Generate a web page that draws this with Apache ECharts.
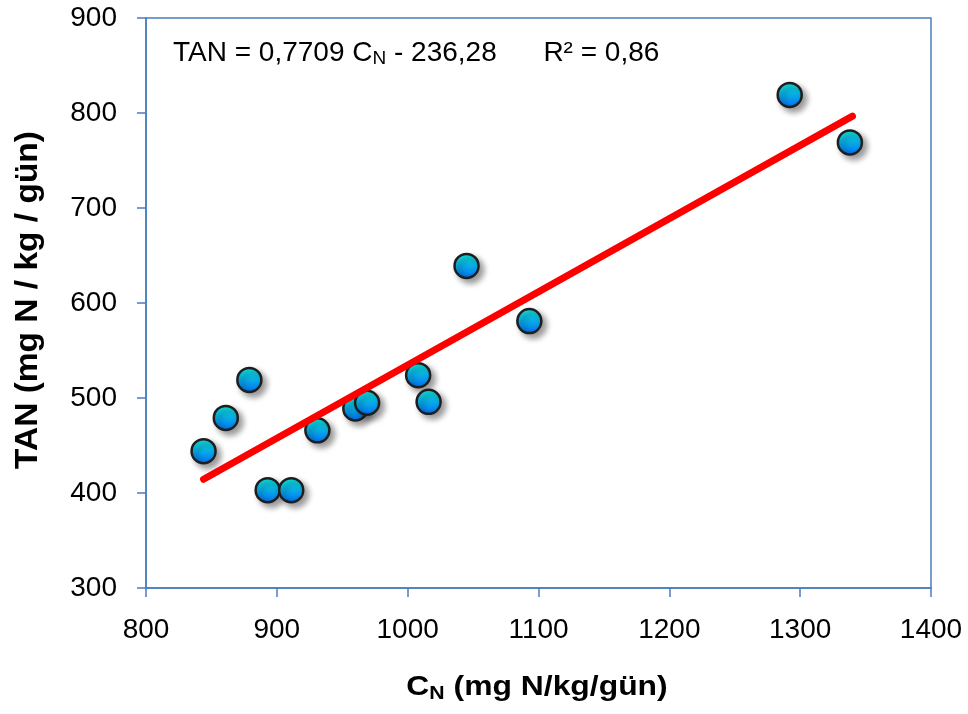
<!DOCTYPE html>
<html><head><meta charset="utf-8">
<script src="https://cdn.jsdelivr.net/npm/echarts@6/dist/echarts.min.js"></script>
<style>html,body{margin:0;padding:0;background:#fff}#c{width:968px;height:714px}</style>
</head><body><div id="c"></div>
<script>
const cnValues = [844, 861, 879, 893, 911, 931, 960, 969, 1008, 1016, 1045, 1093, 1292, 1338];
const tanValues = [444, 479, 519, 403, 403, 466, 489, 495, 524, 496, 639, 581, 819, 769];
const trendX = [844, 1340];
const trendY = [414.4, 796.7];
const xTicks = [800, 900, 1000, 1100, 1200, 1300, 1400];
const yTicks = [300, 400, 500, 600, 700, 800, 900];

const chart = echarts.init(document.getElementById('c'));
const font = "'Liberation Sans', Arial, sans-serif";
const axisColor = '#4a7ebb';
chart.setOption({
  animation: false,
  grid: {left: 146, right: 37, top: 18, bottom: 126, show: true, borderColor: axisColor, borderWidth: 1.5, backgroundColor: 'transparent'},
  xAxis: {
    type: 'value', min: xTicks[0], max: xTicks[xTicks.length-1], interval: 100,
    axisLine: {show: true, lineStyle: {color: axisColor, width: 1.5}},
    axisTick: {show: true, length: 9, lineStyle: {color: axisColor, width: 1.5}},
    splitLine: {show: false},
    axisLabel: {color: '#000', fontSize: 28, fontFamily: font, margin: 28, formatter: v => String(v)}
  },
  yAxis: {
    type: 'value', min: yTicks[0], max: yTicks[yTicks.length-1], interval: 100,
    axisLine: {show: true, lineStyle: {color: axisColor, width: 1.5}},
    axisTick: {show: true, length: 9, lineStyle: {color: axisColor, width: 1.5}},
    splitLine: {show: false},
    axisLabel: {color: '#000', fontSize: 28, fontFamily: font, margin: 29, formatter: v => String(v)}
  },
  series: [
    {
      type: 'scatter', z: 2,
      data: cnValues.map((x, i) => [x, tanValues[i]]),
      symbolSize: 24,
      itemStyle: {
        color: new echarts.graphic.LinearGradient(0, 0, 0, 1, [
          {offset: 0, color: '#10ecdc'}, {offset: 0.5, color: '#08aee8'}, {offset: 1, color: '#0068f4'}
        ]),
        borderColor: '#1e1e1e', borderWidth: 2.5, opacity: 1,
        shadowBlur: 6, shadowOffsetX: 4, shadowOffsetY: 4, shadowColor: 'rgba(0,0,0,0.4)'
      }
    },
    {
      type: 'line', z: 3, symbol: 'none',
      data: trendX.map((x, i) => [x, trendY[i]]),
      lineStyle: {color: '#ff0000', width: 7, cap: 'round'}
    }
  ],
  graphic: [
    {
      type: 'text', left: 173, top: 39,
      style: {
        text: '{a|TAN = 0,7709 C}{s|N}{a| - 236,28      R² = 0,86}',
        rich: {
          a: {fontSize: 28, fontFamily: font, fill: '#000'},
          s: {fontSize: 19, fontFamily: font, fill: '#000', padding: [12, 0, 0, 0]}
        }
      }
    },
    {
      type: 'text', x: 537, y: 688, scaleX: 1.18,
      style: {
        text: '{a|C}{s|N}{a| (mg N/kg/gün)}',
        align: 'center', verticalAlign: 'middle',
        rich: {
          a: {fontSize: 27, fontWeight: 'bold', fontFamily: font, fill: '#000'},
          s: {fontSize: 18, fontWeight: 'bold', fontFamily: font, fill: '#000', padding: [12, 0, 0, 0]}
        }
      }
    },
    {
      type: 'text', x: 28, y: 300, rotation: Math.PI / 2, scaleX: 1.08,
      style: {
        text: 'TAN (mg N / kg / gün)', fontSize: 31, fontWeight: 'bold', fontFamily: font, fill: '#000',
        align: 'center', verticalAlign: 'middle'
      }
    }
  ]
});
</script></body></html>
